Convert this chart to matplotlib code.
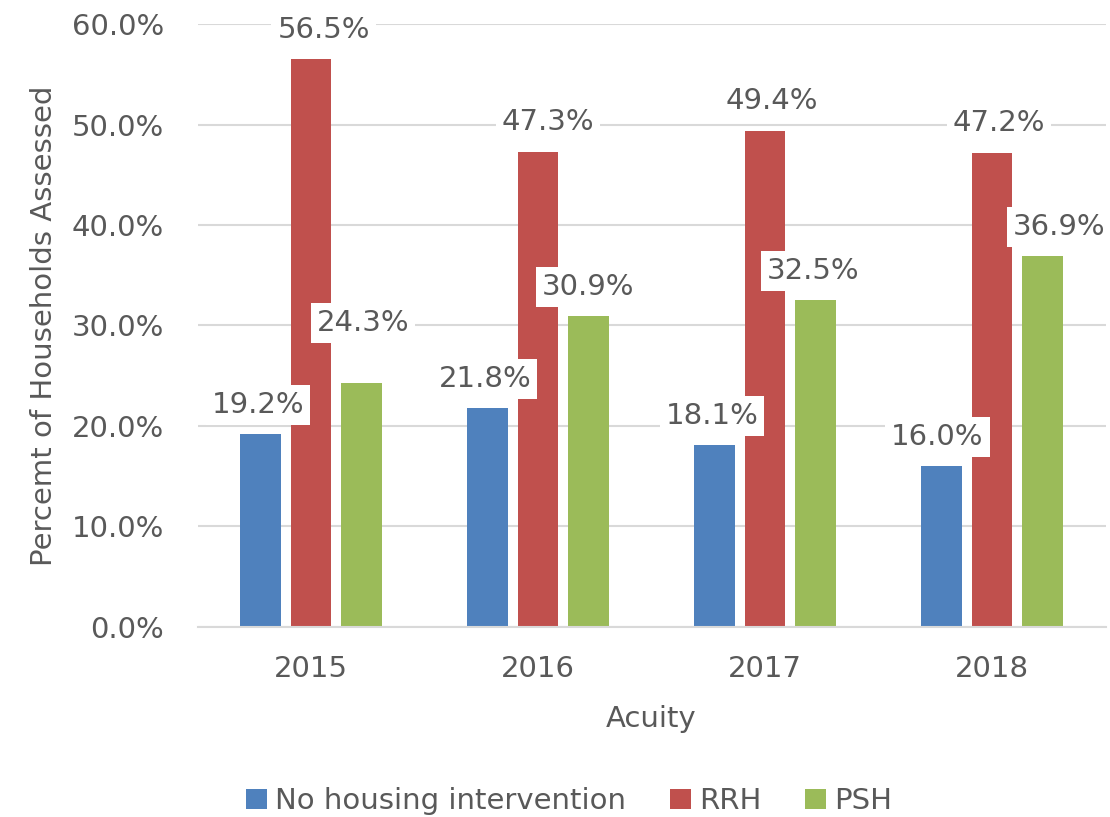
import numpy as np
import matplotlib
matplotlib.use("Agg")
import matplotlib.pyplot as plt

years = ["2015", "2016", "2017", "2018"]
series = ["No housing intervention", "RRH", "PSH"]
no_housing = [19.2, 21.8, 18.1, 16.0]
rrh = [56.5, 47.3, 49.4, 47.2]
psh = [24.3, 30.9, 32.5, 36.9]
colors = ["#4F81BD", "#C0504D", "#9BBB59"]

# label nudges in points (dx, dy) per series / year, as Excel placed them
label_dx = [[-2, -2, -2, -3], [9, 7, 5, 5], [1, 0, -2, 12]]
label_dy = [[0, 0, 0, 0], [0, 0, 0, 0], [22, 0, 0, 0]]

txt = "#595959"
fs = 21
plt.rcParams["font.family"] = ["DejaVu Sans"]
plt.rcParams["font.size"] = fs

fig = plt.figure(figsize=(11.1, 8.17), dpi=100)
ax = fig.add_axes([0.178, 0.2326, 0.818, 0.738])

x = np.arange(len(years))
w = 0.178
pitch = 0.222
vals = [no_housing, rrh, psh]
for i, (v, c) in enumerate(zip(vals, colors)):
    b = ax.bar(x + (i - 1) * pitch, v, w, color=c, label=series[i], zorder=2)
    for j, rect in enumerate(b):
        ax.annotate(f"{v[j]:.1f}%",
                    (rect.get_x() + rect.get_width() / 2, rect.get_height()),
                    xytext=(label_dx[i][j], 21 + label_dy[i][j]),
                    textcoords="offset points", ha="center", va="center",
                    color=txt, fontsize=fs, zorder=3,
                    bbox=dict(boxstyle="square,pad=0.2", fc="white", ec="none"))

ax.set_xlim(-0.5, 3.5)
ax.set_ylim(0, 60)
ax.set_yticks(np.arange(0, 61, 10))
ax.set_yticklabels([f"{t:.1f}%" for t in np.arange(0, 61, 10)])
ax.set_xticks(x)
ax.set_xticklabels(years)
ax.yaxis.grid(True, color="#D9D9D9", linewidth=1.5, zorder=0)
ax.set_axisbelow(True)
for s in ["top", "right", "left"]:
    ax.spines[s].set_visible(False)
ax.spines["bottom"].set_color("#D9D9D9")
ax.spines["bottom"].set_linewidth(1.5)
ax.tick_params(axis="both", length=0, colors=txt, labelsize=fs)
ax.tick_params(axis="y", pad=24)
ax.tick_params(axis="x", pad=20)

ax.set_xlabel("Acuity", color=txt, fontsize=fs, labelpad=16)
ax.set_ylabel("Percemt of Households Assessed", color=txt, fontsize=fs, labelpad=10)

leg = fig.legend(loc="lower center", bbox_to_anchor=(0.513, -0.03), ncol=3,
                 frameon=False, handlelength=0.7, handleheight=0.7,
                 handletextpad=0.3, columnspacing=1.5, fontsize=fs)
for t in leg.get_texts():
    t.set_color(txt)

fig.savefig("out.png", dpi=100)
